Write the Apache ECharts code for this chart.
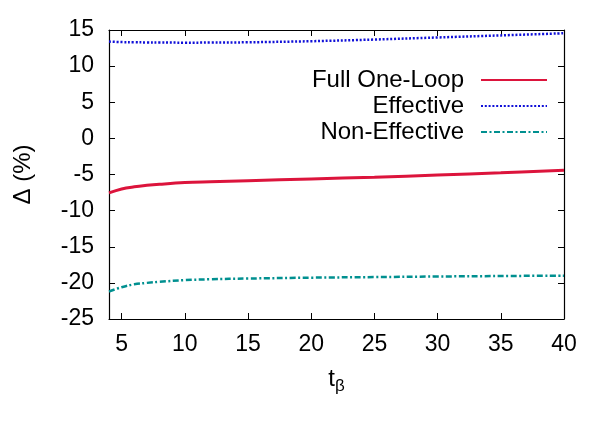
<!DOCTYPE html>
<html><head><meta charset="utf-8">
<script src="https://cdn.jsdelivr.net/npm/echarts@6/dist/echarts.min.js"></script>
<style>html,body{margin:0;padding:0;background:#fff}#c{width:610px;height:427px}</style>
</head><body><div id="c"></div>
<script>
const tBeta = [4, 5, 6, 7, 8, 10, 12, 15, 20, 25, 30, 35, 40];
const fullOneLoop = [-7.55, -7.0, -6.7, -6.5, -6.35, -6.12, -6.0, -5.85, -5.62, -5.37, -5.08, -4.77, -4.42];
const effective = [13.4, 13.33, 13.3, 13.28, 13.27, 13.25, 13.26, 13.3, 13.45, 13.68, 13.97, 14.25, 14.55];
const nonEffective = [-21.2, -20.6, -20.2, -20.0, -19.85, -19.62, -19.5, -19.4, -19.28, -19.2, -19.12, -19.05, -19.0];
const xTicks = [5, 10, 15, 20, 25, 30, 35, 40];
const yTicks = [-25, -20, -15, -10, -5, 0, 5, 10, 15];

const pair = (xs, ys) => xs.map((x, i) => [x, ys[i]]);
const font = 'Liberation Sans, Arial, sans-serif';
const FS = 23;
const chart = echarts.init(document.getElementById('c'), null, {renderer: 'canvas'});
const tickStyle = {show: true, inside: true, length: 6, lineStyle: {color: '#000', width: 1}};
const lineStyleAxis = {show: true, onZero: false, lineStyle: {color: '#000', width: 1.2}};
const legendBase = {
  orient: 'vertical', align: 'right', right: 62, padding: 0, itemWidth: 66, itemHeight: 24,
  textStyle: {fontFamily: font, fontSize: 24, color: '#000', padding: [0, 12, 0, 0]},
  itemStyle: {opacity: 0},
  inactiveColor: '#000'
};
chart.setOption({
  animation: false,
  grid: {left: 109, right: 46, top: 30, bottom: 108},
  legend: [
    Object.assign({}, legendBase, {top: 68, data: ['Full One-Loop']}),
    Object.assign({}, legendBase, {top: 94, data: ['Effective']}),
    Object.assign({}, legendBase, {top: 120, data: ['Non-Effective']})
  ],
  xAxis: [{
    type: 'value', min: 4, max: 40, position: 'bottom',
    name: '{t|t}{s|β}', nameLocation: 'middle', nameGap: 45,
    nameTextStyle: {rich: {t: {fontFamily: font, fontSize: 24, color: '#000'}, s: {fontFamily: font, fontSize: 17, color: '#000', verticalAlign: 'bottom', padding: [14, 0, 0, 0]}}},
    axisLine: lineStyleAxis,
    axisTick: Object.assign({customValues: xTicks}, tickStyle),
    axisLabel: {customValues: xTicks, fontFamily: font, fontSize: FS, color: '#000', margin: 14},
    splitLine: {show: false}
  }, {
    type: 'value', min: 4, max: 40, position: 'top',
    axisLine: lineStyleAxis,
    axisTick: Object.assign({customValues: xTicks}, tickStyle),
    axisLabel: {show: false}, splitLine: {show: false}
  }],
  yAxis: [{
    type: 'value', min: -25, max: 15, interval: 5, position: 'left',
    name: 'Δ (%)', nameLocation: 'middle', nameGap: 74, nameRotate: 90,
    nameTextStyle: {fontFamily: font, fontSize: 24, color: '#000'},
    axisLine: lineStyleAxis,
    axisTick: tickStyle,
    axisLabel: {fontFamily: font, fontSize: FS, color: '#000', margin: 15},
    splitLine: {show: false}
  }, {
    type: 'value', min: -25, max: 15, interval: 5, position: 'right',
    axisLine: lineStyleAxis, axisTick: tickStyle,
    axisLabel: {show: false}, splitLine: {show: false}
  }],
  series: [
    {name: 'Full One-Loop', type: 'line', data: pair(tBeta, fullOneLoop), smooth: 0.4, showSymbol: false, symbol: 'none',
     lineStyle: {color: '#dc143c', width: 3}, itemStyle: {color: '#dc143c'}},
    {name: 'Effective', type: 'line', data: pair(tBeta, effective), smooth: 0.4, showSymbol: false, symbol: 'none',
     lineStyle: {color: '#1010d8', width: 2.5, type: [2, 1.8]}, itemStyle: {color: '#1010d8'}},
    {name: 'Non-Effective', type: 'line', data: pair(tBeta, nonEffective), smooth: 0.4, showSymbol: false, symbol: 'none',
     lineStyle: {color: '#009090', width: 2.5, type: [6, 2.5, 2, 2.5]}, itemStyle: {color: '#009090'}}
  ]
});
</script></body></html>
